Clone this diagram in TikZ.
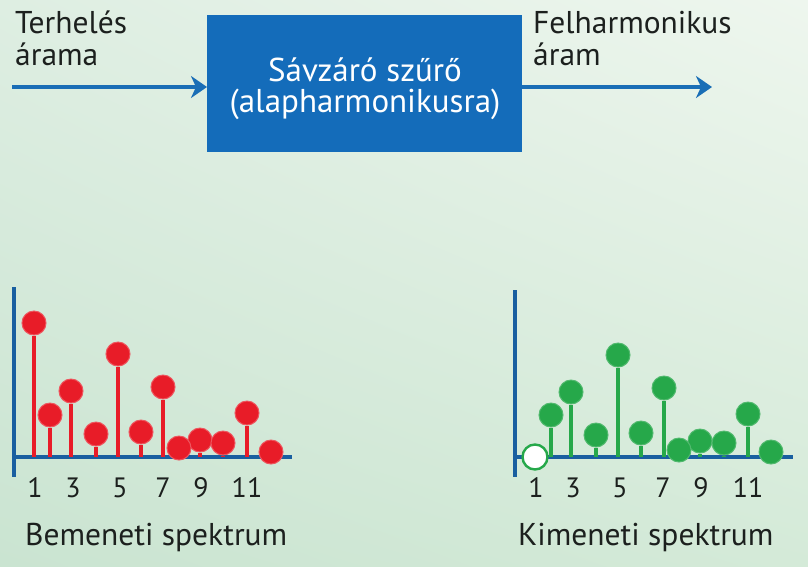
\documentclass[tikz,border=0pt]{standalone}
\usepackage{fontspec}
\setmainfont{PT Sans}
\usetikzlibrary{arrows.meta,shadings}
\definecolor{axisblue}{RGB}{25,95,160}
\definecolor{arrblue}{RGB}{26,110,182}
\definecolor{boxblue}{RGB}{20,108,186}
\definecolor{redball}{RGB}{232,28,40}
\definecolor{greenball}{RGB}{38,168,74}
\definecolor{txt}{RGB}{28,32,30}
\definecolor{bgtl}{RGB}{222,238,226}
\definecolor{bgtr}{RGB}{238,246,238}
\definecolor{bgbl}{RGB}{202,228,209}
\definecolor{bgbr}{RGB}{212,234,216}
\tikzset{
  lbl/.style={font=\fontsize{31.5}{32}\selectfont, text=txt, inner sep=0pt, align=left},
  num/.style={font=\fontsize{28}{28}\selectfont, text=txt, inner sep=0pt, anchor=base},
  axisline/.style={draw=axisblue, line width=3.8pt},
  flow/.style={draw=arrblue, line width=3.8pt, -{Stealth[length=16pt,width=22pt,inset=5pt]}},
  rb/.style={circle, fill=redball, draw=redball!75!white, line width=1pt, minimum size=24pt, inner sep=0pt},
  gb/.style={circle, fill=greenball, draw=greenball!80!white, line width=1pt, minimum size=24pt, inner sep=0pt},
  rstem/.style={draw=redball, line width=3.2pt},
  gstem/.style={draw=greenball, line width=3.2pt},
}
\begin{document}
\begin{tikzpicture}[x=1pt,y=-1pt]
\shade[upper left=bgtl, upper right=bgtr, lower left=bgbl, lower right=bgbr] (0,0) rectangle (808,566);
\useasboundingbox (0,0) rectangle (808,566);

% filter box
\node[fill=boxblue, minimum width=315pt, minimum height=137pt, inner sep=0pt, anchor=north west] (filter) at (207,15) {};
\node[font=\fontsize{33}{30.5}\selectfont, text=white, align=center, inner sep=0pt, anchor=base] (ftext) at (365,112) {Sávzáró szűrő\\(alapharmonikusra)};

% flow labels
\node[lbl, anchor=base west] (inlbl) at (15,65) {Terhelés\\árama};
\node[lbl, anchor=base west] (outlbl) at (533,65) {Felharmonikus\\áram};

\coordinate (inL) at (12,87);
\coordinate (outR) at (712,87);
\draw[flow] (inL) -- (inL -| filter.west);
\draw[flow] (outR -| filter.east) -- (outR);

% left spectrum axes
\coordinate (lyT) at (14,287);
\coordinate (lyB) at (14,477);
\coordinate (lx0) at (14,457);
\coordinate (lx1) at (292,457);
\draw[axisline] (lyT) -- (lyB);
\draw[axisline] (lx0) -- (lx1);

% right spectrum axes
\coordinate (ryT) at (515,290);
\coordinate (ryB) at (515,477);
\coordinate (rx0) at (515,457);
\coordinate (rx1) at (793,457);
\draw[axisline] (ryT) -- (ryB);
\draw[axisline] (rx0) -- (rx1);

% left red balls
\foreach \n/\x/\y in {1/34/323, 2/50/415, 3/71/391, 4/96/434, 5/118/354, 6/141/432, 7/163/387, 9/200/440, 10/223/443, 11/247/413}{
  \node[rb] (r\n) at (\x,\y) {};
  \draw[rstem] (r\n.south) -- (r\n.south |- lx0);
}
\node[rb] (r8) at (179,448) {};
\node[rb] (r12) at (271,452) {};

% right green balls
\node[circle, fill=white, draw=greenball, line width=2.4pt, minimum size=25pt, inner sep=0pt] (g1) at (535,457) {};
\foreach \n/\x/\y in {2/551/415, 3/571/392, 4/596/435, 5/618/355, 6/641/433, 7/664/388, 9/700/441, 10/724/443, 11/748/414}{
  \node[gb] (g\n) at (\x,\y) {};
  \draw[gstem] (g\n.south) -- (g\n.south |- rx0);
}
\node[gb] (g8) at (679,450) {};
\node[gb] (g12) at (771,452) {};

% numbers
\foreach \t/\x in {1/35, 3/73, 5/120, 7/163, 9/201, 11/247}{
  \node[num] (ln\t) at (\x,497) {\t};
}
\foreach \t/\x in {1/536, 3/573, 5/620, 7/663, 9/701, 11/748}{
  \node[num] (rn\t) at (\x,497) {\t};
}

\node[lbl, anchor=base west] (inspec) at (25,545) {Bemeneti spektrum};
\node[lbl, anchor=base west] (outspec) at (518,545) {Kimeneti spektrum};
\end{tikzpicture}
\end{document}
